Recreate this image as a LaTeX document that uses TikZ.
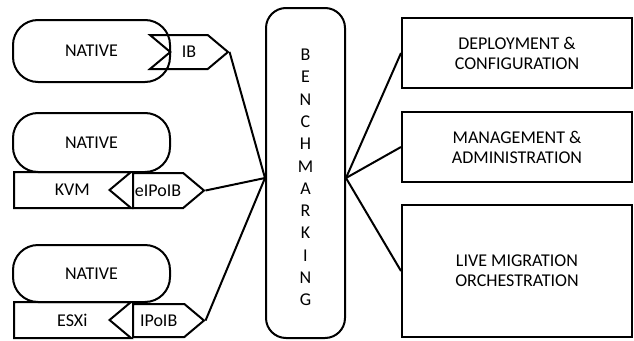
\documentclass[tikz,border=0pt]{standalone}
\usepackage{fontspec}
\setmainfont{Carlito}
\usetikzlibrary{shapes.symbols}
\begin{document}
\begin{tikzpicture}[x=1pt,y=-1pt,line width=2pt,font=\fontsize{18}{20}\selectfont,
  native/.style={draw,rounded corners=25pt,minimum width=157pt,inner sep=0pt},
  tag/.style={draw,signal,signal pointer angle=80,inner sep=0pt},
  hyper/.style={tag,signal to=nowhere,signal from=east,minimum width=117pt,minimum height=36pt,anchor=west},
  topic/.style={draw,minimum width=230pt,minimum height=70pt,align=center,font=\fontsize{18}{20}\selectfont}]
\useasboundingbox (0,0) rectangle (634,340);
\node[native,minimum height=62pt] (nat1) at (91.5,51) {NATIVE};
\node[tag,signal to=east,signal from=west,minimum width=78pt,minimum height=34pt] (ib) at (189,52) {IB};
\node[native,minimum height=59pt] (nat2) at (91.5,142.5) {NATIVE};
\node[hyper] (kvm) at (13,190) {\hspace*{21pt}KVM};
\node[tag,signal to=east,minimum width=71pt,minimum height=35pt,anchor=west] (eipoib) at (132,190.5) {eIPoIB};
\node[native,minimum height=57pt] (nat3) at (91.5,273.5) {NATIVE};
\node[hyper] (esxi) at (13,320) {\hspace*{21pt}ESXi};
\node[tag,signal to=east,minimum width=71pt,minimum height=33pt,anchor=west] (ipoib) at (132,320.5) {IPoIB};
\node[draw,rounded corners=20pt,minimum width=79pt,minimum height=330pt] (bench) at (305.5,173) {};
\node[align=center,font=\fontsize{18}{22.3}\selectfont] (benchtxt) at (305.5,177.5)
  {B\\E\\N\\C\\H\\M\\A\\R\\K\\I\\N\\G};
\coordinate (hubL) at ([yshift=-5pt]bench.west);
\coordinate (hubR) at ([yshift=-5pt]bench.east);
\node[topic] (deploy) at (517,53) {DEPLOYMENT \&\\CONFIGURATION};
\node[topic] (manage) at (517,147) {MANAGEMENT \&\\ADMINISTRATION};
\node[topic,minimum height=132pt] (migrate) at (517,271) {LIVE MIGRATION\\ORCHESTRATION};
\foreach \t in {ib,eipoib,ipoib}
  \draw (\t.east) -- (hubL);
\foreach \b in {deploy,manage,migrate}
  \draw (hubR) -- (\b.west);
\end{tikzpicture}
\end{document}
